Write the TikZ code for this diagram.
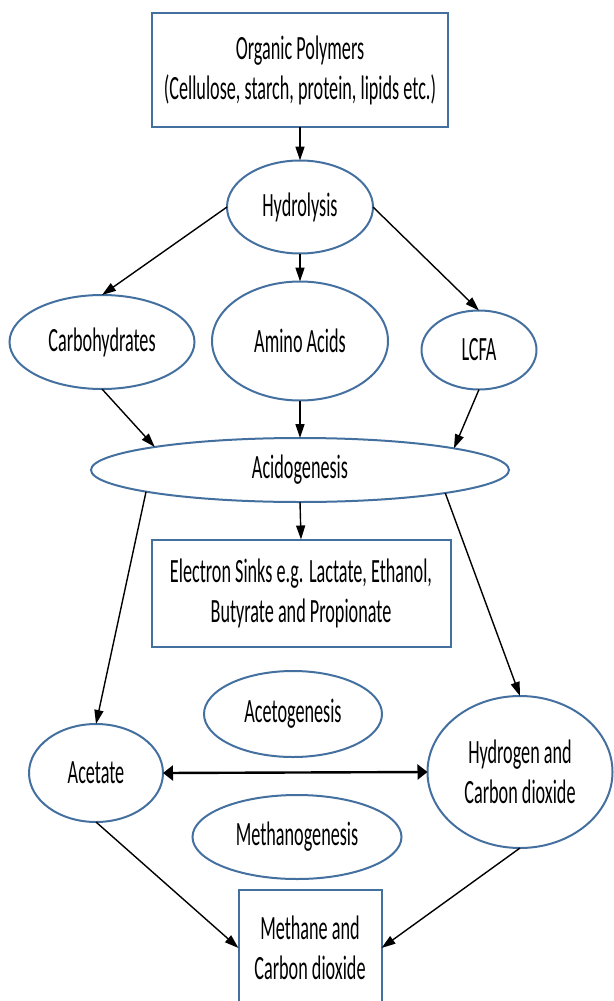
\documentclass[tikz,border=0pt]{standalone}
\usepackage{fontspec}
\setmainfont{Carlito}[FakeStretch=0.535]
\usepackage{tikz}
\usetikzlibrary{shapes.geometric, arrows.meta}
\definecolor{B0}{RGB}{68,112,160}

\begin{document}
\begin{tikzpicture}[x=1pt, y=-1pt,
    every node/.style={font=\fontsize{34}{40}\selectfont},
    stage/.style={ellipse, draw=B0, line width=2pt, inner sep=0pt, outer sep=0pt, align=center},
    block/.style={rectangle, draw=B0, line width=2pt, inner sep=0pt, outer sep=0pt, align=center},
    flow/.style={-{Triangle[length=14pt, width=9pt]}, line width=1.4pt},
    link/.style={{Triangle[length=10pt, width=15pt]}-{Triangle[length=10pt, width=15pt]}, line width=2.4pt}]
    %% page frame
    \useasboundingbox (0,0) rectangle (613,1001);
    %% boxes
    \node[block, minimum width=296pt, minimum height=114pt] (polymers) at (300,70)
        {Organic Polymers\\(Cellulose, starch, protein, lipids etc.)};
    \node[block, minimum width=299pt, minimum height=107pt] (sinks) at (301,593)
        {Electron Sinks e.g. Lactate, Ethanol,\\Butyrate and Propionate};
    \node[block, minimum width=143pt, minimum height=116pt] (methane) at (310,948)
        {Methane and\\Carbon dioxide};
    %% stages
    \node[stage, minimum width=146pt, minimum height=93pt]  (hydrolysis) at (300,207) {Hydrolysis};
    \node[stage, minimum width=185pt, minimum height=94pt]  (carbs)      at (102,342) {Carbohydrates};
    \node[stage, minimum width=176pt, minimum height=119pt] (amino)      at (300,341) {Amino Acids};
    \node[stage, minimum width=115pt, minimum height=79pt]  (lcfa)       at (479,350) {LCFA};
    \node[stage, minimum width=418pt, minimum height=64pt]  (acido)      at (300,470) {Acidogenesis};
    \node[stage, minimum width=178pt, minimum height=86pt]  (aceto)      at (293,714) {Acetogenesis};
    \node[stage, minimum width=134pt, minimum height=98pt]  (acetate)    at (96,773)  {Acetate};
    \node[stage, minimum width=185pt, minimum height=152pt] (hydrogen)   at (520,772) {Hydrogen and\\Carbon dioxide};
    \node[stage, minimum width=209pt, minimum height=84pt]  (methano)    at (297,837) {Methanogenesis};
    %% hydrolysis
    \draw[flow] (polymers.south) -- (hydrolysis.north);
    \draw[flow] (hydrolysis.west) -- (carbs.north);
    \draw[flow] (hydrolysis.south) -- (amino.north);
    \draw[flow] (hydrolysis.east) -- (lcfa.north);
    %% into acidogenesis
    \draw[flow] (carbs.south) -- (acido.171.7);
    \draw[flow] (amino.south) -- (acido.north);
    \draw[flow] (lcfa.south) -- (acido.8.7);
    %% out of acidogenesis
    \draw[flow] (acido.south) -- (sinks.north);
    \draw[flow] (acido.188.7) -- (acetate.north);
    \draw[flow] (acido.351.3) -- (hydrogen.north);
    %% acetogenesis / methanogenesis
    \draw[link] (acetate.east) -- (hydrogen.west);
    \draw[flow] (acetate.south) -- (methane.west);
    \draw[flow] (hydrogen.south) -- (methane.east);
\end{tikzpicture}
\end{document}
